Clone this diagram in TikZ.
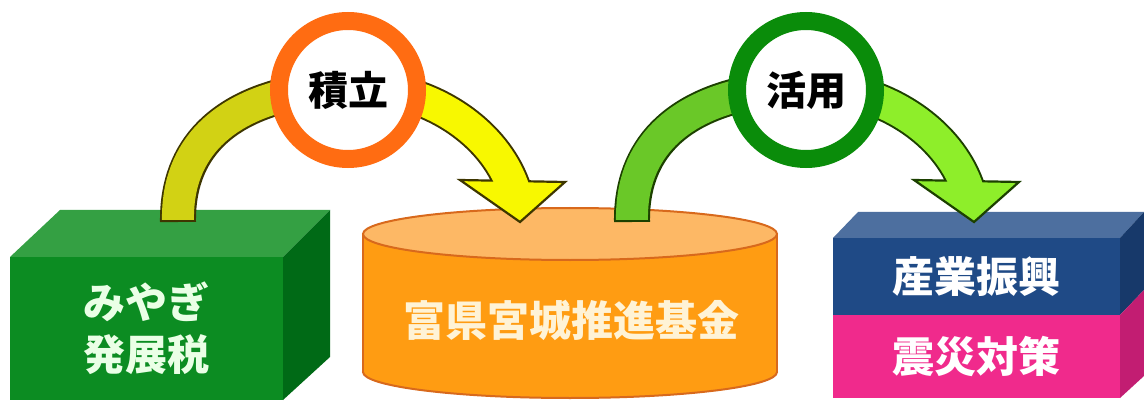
\documentclass[tikz,border=0pt]{standalone}
\usepackage{fontspec}
\newfontfamily\jp{Noto Sans CJK JP}
\definecolor{gtop}{HTML}{34A043}
\definecolor{gfront}{HTML}{0C8C22}
\definecolor{gside}{HTML}{006A16}
\definecolor{gtext}{HTML}{EAFFE6}
\definecolor{otop}{HTML}{FDB865}
\definecolor{oside}{HTML}{FF9C12}
\definecolor{oline}{HTML}{D8691C}
\definecolor{otext}{HTML}{FFF3D6}
\definecolor{btop}{HTML}{4D6F9F}
\definecolor{bfront}{HTML}{1F4A86}
\definecolor{bside}{HTML}{17396A}
\definecolor{pfront}{HTML}{F02A8C}
\definecolor{pside}{HTML}{C21D72}
\definecolor{yleft}{HTML}{D2D214}
\definecolor{yright}{HTML}{F8F800}
\definecolor{yline}{HTML}{3E3600}
\definecolor{lleft}{HTML}{6AC828}
\definecolor{lright}{HTML}{8EEE2A}
\definecolor{lline}{HTML}{1C4000}
\definecolor{ring1}{HTML}{FF6C12}
\definecolor{ring2}{HTML}{0A8C0A}
\tikzset{
  lbl/.style={font=\jp\bfseries\fontsize{42}{52}\selectfont, align=center},
  face/.style={anchor=north west, inner sep=0pt, outer sep=0pt},
  ringnode/.style={circle, fill=white, line width=18pt, minimum size=138pt, inner sep=0pt,
    font=\jp\bfseries\fontsize{40}{44}\selectfont, text=black},
}
\newcommand{\flowarrow}[3]{%
  % #1 left colour, #2 right colour, #3 outline colour
  \draw[line width=36pt, #3] (178,222) .. controls (177,148) and (224,106) .. (300,92);
  \draw[line width=36pt, #3] (395,92) .. controls (445,102) and (497,138) .. (514,190);
  \draw[fill=#2, draw=#3, line width=2.2pt, line join=miter] (460,180) -- (565,182) -- (520,222) -- cycle;
  \draw[line width=32pt, #1, shorten <=2.2pt] (178,222) .. controls (177,148) and (224,106) .. (300,92);
  \draw[line width=32pt, #2] (395,92) .. controls (445,102) and (497,138) .. (514,190);
}
\begin{document}
\begin{tikzpicture}[x=1pt,y=-1pt]
\useasboundingbox[fill=white] (0,0) rectangle (1144,401);
% left box: tax
\fill[gtop] (10,257) -- (60,210) -- (330,210) -- (283,257) -- cycle;
\fill[gside] (283,257) -- (330,210) -- (330,357) -- (283,400) -- cycle;
\node[face, fill=gfront, minimum width=273pt, minimum height=143pt, lbl, text=gtext] (tax) at (10,257) {みやぎ\\発展税};
% cylinder: fund
\filldraw[fill=oside, draw=oline, line width=2pt] (570,372) ellipse [x radius=207pt, y radius=26pt];
\fill[oside] (363,234) rectangle (777,372);
\draw[oline, line width=2pt] (363,234) -- (363,372) (777,234) -- (777,372);
\filldraw[fill=otop, draw=oline, line width=2pt] (570,234) ellipse [x radius=207pt, y radius=26pt];
\node[lbl, text=otext] (fund) at (571,320) {富県宮城推進基金};
% right box: uses
\fill[btop] (833,238) -- (858,212) -- (1144,212) -- (1120,238) -- cycle;
\fill[bside] (1120,238) -- (1144,212) -- (1144,290) -- (1120,315) -- cycle;
\fill[pside] (1120,315) -- (1144,290) -- (1144,376) -- (1120,398) -- cycle;
\node[face, fill=bfront, minimum width=287pt, minimum height=77pt, lbl, text=white] (ind) at (833,238) {産業振興};
\node[face, fill=pfront, minimum width=287pt, minimum height=83pt, lbl, text=white] (dis) at (833,315) {震災対策};
% arrows
\flowarrow{yleft}{yright}{yline}
\begin{scope}[xshift=454pt]
\flowarrow{lleft}{lright}{lline}
\end{scope}
% circles
\node[ringnode, draw=ring1] (tsumi) at (348,90) {積立};
\node[ringnode, draw=ring2] (katsu) at (806,90) {活用};
\end{tikzpicture}
\end{document}
